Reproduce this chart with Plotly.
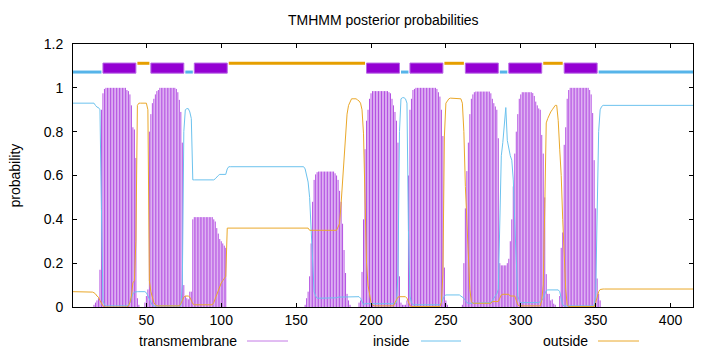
import plotly.graph_objects as go

# ---------------- data ----------------
seq_len = 415
residues = list(range(1, seq_len + 1))

tm_prob = ([0.0] * 14 + [0.01, 0.02, 0.03, 0.04, 0.17, 0.90, 0.975, 0.995] + [1.0] * 14
           + [0.99, 0.985, 0.97, 0.92, 0.82, 0.81, 0.68, 0.04, 0.01, 0.0, 0.0, 0.0,
              0.02, 0.05, 0.08, 0.80, 0.88, 0.93, 0.95, 0.97, 0.985, 0.99]
           + [1.0] * 11
           + [0.995, 0.98, 0.945, 0.89, 0.75, 0.10, 0.05, 0.04, 0.035, 0.07, 0.07, 0.40]
           + [0.41] * 13
           + [0.40, 0.39, 0.36, 0.335, 0.31, 0.30, 0.29, 0.28, 0.27]
           + [0.0] * 52
           + [0.01, 0.04, 0.07, 0.14, 0.29, 0.48, 0.58, 0.605, 0.615]
           + [0.618] * 11
           + [0.61, 0.60, 0.58, 0.53, 0.48, 0.38, 0.26, 0.155, 0.06, 0.03, 0.01]
           + [0.0] * 5
           + [0.02, 0.03, 0.16, 0.40, 0.72, 0.85, 0.90, 0.95, 0.975]
           + [0.985] * 11
           + [0.98, 0.975, 0.95, 0.92, 0.89, 0.85, 0.75, 0.14, 0.02]
           + [0.01] * 3
           + [0.03, 0.60, 0.90, 0.95, 0.99, 0.995]
           + [1.0] * 14
           + [0.995, 0.98, 0.96, 0.90, 0.78, 0.18, 0.03, 0.01]
           + [0.0] * 9
           + [0.01, 0.20, 0.45, 0.62, 0.75, 0.88, 0.95, 0.97, 0.98]
           + [0.983] * 10
           + [0.975, 0.95, 0.93, 0.915, 0.90, 0.77, 0.20, 0.19, 0.19, 0.19, 0.19,
              0.20, 0.22, 0.30, 0.40, 0.55, 0.70, 0.80, 0.88, 0.95, 0.97]
           + [0.98] * 7
           + [0.976, 0.963, 0.937, 0.92, 0.906, 0.90, 0.785, 0.70, 0.50, 0.15, 0.06,
              0.06, 0.03, 0.035, 0.015, 0.01]
           + [0.0] * 2
           + [0.05, 0.27, 0.34, 0.74, 0.82, 0.95, 0.99]
           + [1.0] * 13
           + [0.99, 0.97, 0.885, 0.67, 0.45, 0.13, 0.06, 0.03]
           + [0.0] * 62)

inside_prob = ([0.93] * 15 + [0.92, 0.912, 0.91, 0.90, 0.45, 0.03, 0.01]
               + [0.005] * 15
               + [0.01, 0.02, 0.04, 0.06, 0.068]
               + [0.07] * 7
               + [0.065, 0.05, 0.03, 0.015, 0.008]
               + [0.005] * 19
               + [0.10, 0.80, 0.90, 0.905, 0.905, 0.89, 0.86, 0.58]
               + [0.58] * 14
               + [0.585, 0.595, 0.60]
               + [0.605] * 5
               + [0.63]
               + [0.64] * 51
               + [0.63, 0.60, 0.57, 0.50, 0.35, 0.17, 0.07, 0.05]
               + [0.04] * 13
               + [0.042]
               + [0.045] * 4
               + [0.047] * 11
               + [0.04, 0.02, 0.01]
               + [0.015] * 21
               + [0.02, 0.15, 0.80, 0.95, 0.955, 0.955, 0.95, 0.93, 0.35, 0.05, 0.02]
               + [0.01] * 19
               + [0.02, 0.04, 0.05]
               + [0.055] * 10
               + [0.05, 0.045, 0.04, 0.03, 0.02]
               + [0.017] * 15
               + [0.02, 0.03, 0.04, 0.05, 0.06, 0.08, 0.40, 0.69, 0.75, 0.82, 0.91,
                  0.76, 0.72, 0.69, 0.67, 0.58, 0.38, 0.18, 0.05, 0.03]
               + [0.02] * 13
               + [0.025, 0.03, 0.04, 0.06, 0.075]
               + [0.078] * 8
               + [0.07, 0.03, 0.01]
               + [0.005] * 21
               + [0.05, 0.40, 0.80, 0.90, 0.915]
               + [0.92] * 61)

outside_prob = ([0.07] * 13 + [0.068, 0.065, 0.06, 0.05, 0.045, 0.03, 0.015, 0.005]
                + [0.0] * 16
                + [0.005, 0.02, 0.05, 0.11, 0.12, 0.30, 0.92]
                + [0.93] * 6
                + [0.90, 0.12, 0.07, 0.04, 0.02, 0.01]
                + [0.005] * 16
                + [0.015, 0.03, 0.045]
                + [0.05] * 3
                + [0.045, 0.03, 0.015]
                + [0.01] * 13
                + [0.02, 0.04, 0.06, 0.08, 0.10, 0.11, 0.12, 0.13, 0.14]
                + [0.36] * 55
                + [0.35] * 19
                + [0.365, 0.38, 0.47, 0.57, 0.66, 0.78, 0.88, 0.92, 0.94]
                + [0.95] * 4
                + [0.945, 0.94, 0.93, 0.90, 0.79, 0.48, 0.20, 0.10, 0.05, 0.02, 0.01]
                + [0.005] * 14
                + [0.02, 0.03, 0.045]
                + [0.047] * 5
                + [0.04, 0.02, 0.005]
                + [0.002] * 20
                + [0.02, 0.15, 0.78, 0.93, 0.94, 0.95]
                + [0.953] * 7
                + [0.95, 0.93, 0.80, 0.55, 0.38, 0.22, 0.08, 0.025]
                + [0.017] * 13
                + [0.025] * 5
                + [0.04, 0.055]
                + [0.058] * 5
                + [0.05] * 4
                + [0.03, 0.01]
                + [0.005] * 15
                + [0.03, 0.10, 0.45, 0.84, 0.86, 0.88, 0.89, 0.90, 0.91, 0.92, 0.92,
                   0.85, 0.72, 0.60, 0.40, 0.20, 0.08, 0.01]
                + [0.002] * 18
                + [0.02, 0.05, 0.07, 0.08]
                + [0.082] * 62)

assert len(tm_prob) == seq_len and len(inside_prob) == seq_len and len(outside_prob) == seq_len

# predicted topology (segment starts / ends)
tm_start = [21, 53, 82, 197, 226, 263, 292, 329]
tm_end = [43, 75, 104, 219, 248, 285, 314, 351]
inside_start = [1, 76, 220, 286, 352]
inside_end = [20, 81, 225, 291, 415]
outside_start = [44, 105, 249, 315]
outside_end = [52, 196, 262, 328]

# level of the topology band
tm_band = (1.067, 1.113)
inside_level = 1.072
outside_level = 1.112

legend_names = ["transmembrane", "inside", "outside"]
x_ticks = [50, 100, 150, 200, 250, 300, 350, 400]
y_ticks = [0, 0.2, 0.4, 0.6, 0.8, 1.0, 1.2]
y_tick_text = ["0", "0.2", "0.4", "0.6", "0.8", "1", "1.2"]

# ---------------- styling ----------------
C_TM = "#b451e2"
C_TM_KEY = "#c47ae6"
C_IN = "#6cc2ee"
C_OUT = "#eaa82a"
C_TM_BOX = "#9400d3"
C_IN_BAR = "#56b4e9"
C_OUT_BAR = "#e69f00"
FONT = "Liberation Sans, Arial, sans-serif"

fig = go.Figure()

# transmembrane probability as impulses
ix, iy = [], []
for r, p in zip(residues, tm_prob):
    ix += [r, r, None]
    iy += [0, p, None]
fig.add_trace(go.Scatter(x=ix, y=iy, mode="lines", line=dict(color=C_TM, width=1),
                         hoverinfo="skip", showlegend=False))

fig.add_trace(go.Scatter(x=residues, y=inside_prob, mode="lines",
                         line=dict(color=C_IN, width=1), showlegend=False))
fig.add_trace(go.Scatter(x=residues, y=outside_prob, mode="lines",
                         line=dict(color=C_OUT, width=1), showlegend=False))

# topology band
def seg_lines(starts, ends, level):
    xs, ys = [], []
    for s, e in zip(starts, ends):
        xs += [s, e, None]
        ys += [level, level, None]
    return xs, ys

bx, by = [], []
for s, e in zip(tm_start, tm_end):
    bx += [s, e, e, s, s, None]
    by += [tm_band[0], tm_band[0], tm_band[1], tm_band[1], tm_band[0], None]
fig.add_trace(go.Scatter(x=bx, y=by, mode="lines", fill="toself", fillcolor=C_TM_BOX,
                         line=dict(color="#b866e6", width=1), showlegend=False))
x_in, y_in = seg_lines(inside_start, inside_end, inside_level)
fig.add_trace(go.Scatter(x=x_in, y=y_in, mode="lines", line=dict(color=C_IN_BAR, width=3),
                         showlegend=False))
x_out, y_out = seg_lines(outside_start, outside_end, outside_level)
fig.add_trace(go.Scatter(x=x_out, y=y_out, mode="lines", line=dict(color=C_OUT_BAR, width=3),
                         showlegend=False))

# ---------------- layout ----------------
L, R, T, B = 73, 27, 44, 45
W, H = 720, 352
PW, PH = W - L - R, H - T - B

def px_to_paper_x(px):
    return (px - L) / PW

def px_to_paper_y(py):
    return (H - B - py) / PH

annotations = [
    dict(text="TMHMM posterior probabilities", x=0.5, y=px_to_paper_y(20), xref="paper",
         yref="paper", showarrow=False, font=dict(size=14, color="black", family=FONT),
         xanchor="center", yanchor="middle"),
    dict(text="probability", x=px_to_paper_x(14), y=0.5, xref="paper", yref="paper",
         showarrow=False, textangle=-90, font=dict(size=14, color="black", family=FONT),
         xanchor="center", yanchor="middle"),
]
shapes = []
key_text_right = [239, 412, 590]
key_line = [(247, 288), (421, 461), (598, 639)]
key_colors = [C_TM_KEY, C_IN, C_OUT]
key_y = 341
for name, tr, (l0, l1), c in zip(legend_names, key_text_right, key_line, key_colors):
    annotations.append(dict(text=name, x=px_to_paper_x(tr), y=px_to_paper_y(key_y),
                            xref="paper", yref="paper", showarrow=False, xanchor="right",
                            yanchor="middle", font=dict(size=14, color="black", family=FONT)))
    shapes.append(dict(type="line", xref="paper", yref="paper",
                       x0=px_to_paper_x(l0), x1=px_to_paper_x(l1),
                       y0=px_to_paper_y(key_y), y1=px_to_paper_y(key_y),
                       line=dict(color=c, width=1)))

fig.update_layout(
    width=W, height=H,
    margin=dict(l=L, r=R, t=T, b=B, pad=0),
    paper_bgcolor="white", plot_bgcolor="white",
    font=dict(family=FONT, size=14, color="black"),
    showlegend=False,
    annotations=annotations,
    shapes=shapes,
    xaxis=dict(range=[1, seq_len], tickvals=x_ticks, ticks="inside", ticklen=4,
               tickcolor="black", showline=True, linecolor="black", linewidth=1,
               mirror="allticks", showgrid=False, zeroline=False,
               tickfont=dict(size=14, family=FONT)),
    yaxis=dict(range=[0, 1.2], tickvals=y_ticks, ticktext=y_tick_text, ticks="inside",
               ticklen=4, tickcolor="black", showline=True, linecolor="black",
               linewidth=1, mirror="allticks", showgrid=False, zeroline=False,
               tickfont=dict(size=14, family=FONT), ticklabelstandoff=6),
)

fig.write_html("out.html")
